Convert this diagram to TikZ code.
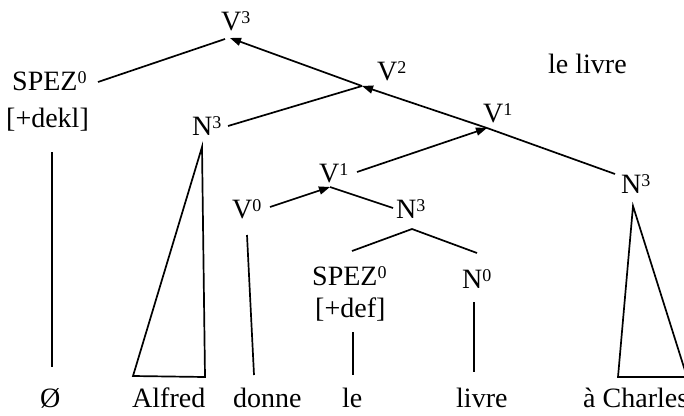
\documentclass[tikz,border=0pt]{standalone}
\usepackage{fontspec}
\setmainfont{Liberation Serif}
\usetikzlibrary{arrows.meta}
\newcommand\supx[1]{\raisebox{7pt}{\fontsize{18}{18}\selectfont #1}}
\begin{document}
\begin{tikzpicture}[x=1pt,y=-1pt,
  lab/.style={anchor=base west,inner sep=0pt,font=\fontsize{28}{30}\selectfont},
  edge/.style={line width=1.7pt,line join=miter},
  arr/.style={edge,-{Triangle[length=11pt,width=8pt]}}]
\useasboundingbox (0,0) rectangle (684,415);
% labels
\node[lab] (V3) at (221,30) {V\supx{3}};
\node[lab] (V2) at (377,80) {V\supx{2}};
\node[lab] (V1u) at (483,122) {V\supx{1}};
\node[lab] (SP1) at (12,90) {SPEZ\supx{0}};
\node[lab] (dekl) at (6,127) {[+dekl]};
\node[lab] (N3l) at (192,135) {N\supx{3}};
\node[lab] (V0) at (232,218) {V\supx{0}};
\node[lab] (V1l) at (319,182) {V\supx{1}};
\node[lab] (N3m) at (396,218) {N\supx{3}};
\node[lab] (SP2) at (312,285) {SPEZ\supx{0}};
\node[lab] (def) at (315,317) {[+def]};
\node[lab] (N0) at (462,288) {N\supx{0}};
\node[lab] (N3r) at (621,193) {N\supx{3}};
\node[lab] (lelivre) at (548,73) {le livre};
\node[lab] (w1) at (40,407) {Ø};
\node[lab] (w2) at (132,407) {Alfred};
\node[lab] (w3) at (233,407) {donne};
\node[lab] (w4) at (342,407) {le};
\node[lab] (w5) at (456,407) {livre};
\node[lab] (w6) at (583,407) {à Charles};
% junction points
\coordinate (jV3) at (230,38);
\coordinate (jV3l) at (225,39);
\coordinate (jSP) at (98,82);
\coordinate (jV2) at (362,86);
\coordinate (jN3l) at (228,126);
\coordinate (jV1u) at (487,128);
\coordinate (jV1l) at (330,187);
\coordinate (jV1ls) at (357,172);
\coordinate (jV0) at (270,207);
\coordinate (jN3m) at (393,208);
\coordinate (jN3r) at (615,174);
\coordinate (aN3m) at (412,229);
\coordinate (aSP2) at (352,251);
\coordinate (aN0) at (477,253);
% edges
\draw[edge] (jSP) -- (jV3l);
\draw[arr] (jV2) -- (jV3);
\draw[edge] (jN3l) -- (jV2);
\draw[arr] (jV1u) -- (jV2);
\draw[arr] (jV1ls) -- (jV1u);
\draw[edge] (jV1u) -- (jN3r);
\draw[arr] (jV0) -- (jV1l);
\draw[edge] (jV1l) -- (jN3m);
\draw[edge] (aSP2) -- (aN3m) -- (aN0);
% vertical lines
\coordinate (t1) at (52,152); \coordinate (b1) at (52,367);
\draw[edge] (t1) -- (b1);
\coordinate (t3) at (247,235); \coordinate (b3) at (254,375);
\draw[edge] (t3) -- (b3);
\coordinate (t4) at (353,332); \coordinate (b4) at (353,375);
\draw[edge] (t4) -- (b4);
\coordinate (t5) at (474,302); \coordinate (b5) at (474,372);
\draw[edge] (t5) -- (b5);
% triangles
\coordinate (tA) at (202,147); \coordinate (tAl) at (133,376); \coordinate (tAr) at (205,377);
\draw[edge] (tA) -- (tAl) -- (tAr) -- cycle;
\begin{scope}
\clip (0,0) rectangle (684,415);
\coordinate (tC) at (633,206); \coordinate (tCl) at (618,377); \coordinate (tCr) at (687,377);
\draw[edge] (tC) -- (tCl) -- (tCr) -- cycle;
\end{scope}
\end{tikzpicture}
\end{document}
